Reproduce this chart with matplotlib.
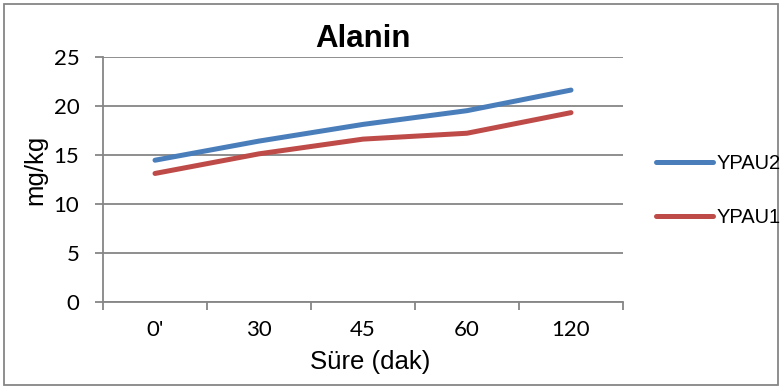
import matplotlib.pyplot as plt
from matplotlib.patches import Rectangle

# veriler
sure = ["0'", "30", "45", "60", "120"]
ypau2 = [14.45, 16.4, 18.1, 19.5, 21.6]
ypau1 = [13.1, 15.1, 16.6, 17.2, 19.3]
y_ticks = [0, 5, 10, 15, 20, 25]

gri = '#868686'

fig = plt.figure(figsize=(7.82, 3.89), dpi=100)
ax = fig.add_axes([103/782, 1 - 302/389, 520/782, (302 - 56.7)/389])

x = list(range(len(sure)))
ax.plot(x, ypau2, color='#4A7EBB', lw=3.6, solid_capstyle='round', label='YPAU2')
ax.plot(x, ypau1, color='#BE4B48', lw=3.6, solid_capstyle='round', label='YPAU1')

ax.set_ylim(0, 25)
ax.set_xlim(-0.5, len(sure) - 0.5)
ax.set_yticks(y_ticks)
ax.set_yticklabels([str(v) for v in y_ticks], fontsize=16, family='Lato')
ax.yaxis.grid(True, color=gri, lw=1.3)
ax.set_axisbelow(True)

# kategori etiketleri arada, tikler kenarlarda
ax.set_xticks([i - 0.5 for i in range(len(sure) + 1)])
ax.set_xticklabels([])
ax.set_xticks(x, minor=True)
ax.set_xticklabels(sure, minor=True, fontsize=16, family='Lato')
ax.tick_params(axis='x', which='minor', length=0, pad=13)
ax.tick_params(axis='both', which='major', length=6, width=1.3, color=gri, direction='out')
ax.tick_params(axis='y', pad=11)

for s in ['top', 'right']:
    ax.spines[s].set_visible(False)
for s in ['left', 'bottom']:
    ax.spines[s].set_color(gri)
    ax.spines[s].set_linewidth(1.3)

ax.set_title('Alanin', fontsize=22.5, fontweight='bold', family='Liberation Sans', pad=7)
fig.text(35/782, 1 - 170/389, 'mg/kg', rotation=90, ha='center', va='center',
         fontsize=18.5, family='Liberation Sans')
fig.text(370/782, 1 - 362/389, 'Süre (dak)', ha='center', va='center',
         fontsize=18.5, family='Liberation Sans')

leg = fig.legend(loc='upper left', bbox_to_anchor=(638/782, 1 - 136/389), frameon=False,
                 prop={'family': 'Liberation Sans', 'size': 14.5}, handlelength=2.8,
                 labelspacing=1.75, handletextpad=0.2)

# dis cerceve
fig.patches.append(Rectangle((4/782, 4/389), 774/782, 381/389, transform=fig.transFigure,
                             fill=False, edgecolor=gri, lw=1.3))

fig.savefig('out.png', dpi=100)
